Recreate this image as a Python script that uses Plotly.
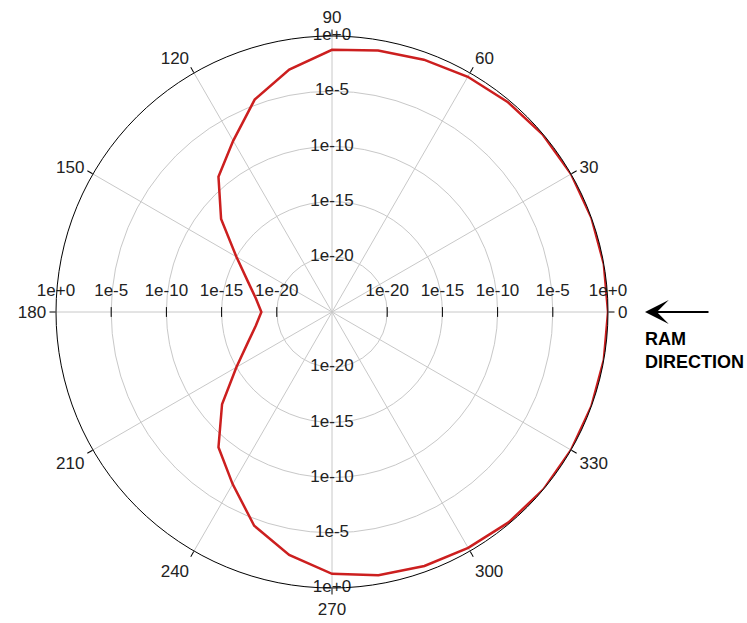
import plotly.graph_objects as go

# red pattern, every 10 degrees (radial axis is log)
theta_deg = [0, 10, 20, 30, 40, 50, 60, 70, 80, 90, 100, 110, 120, 130, 140, 150, 160, 170,
             180, 190, 200, 210, 220, 230, 240, 250, 260, 270, 280, 290, 300, 310, 320, 330,
             340, 350, 360]
intensity = [1.0, 1.0, 1.0, 1.0, 0.9, 0.63, 0.4, 0.21, 0.11, 5.6e-2, 2e-3, 3e-5, 8e-8, 1e-9,
             1.3e-12, 1e-15, 1.3e-17, 1e-18, 2.5e-19, 1e-18, 1.3e-17, 1e-15, 1e-12, 1e-9, 1e-7,
             4e-5, 2.2e-3, 5.2e-2, 0.16, 0.3, 0.47, 0.76, 1.0, 1.0, 1.0, 1.0, 1.0]

ring_vals = [1e-20, 1e-15, 1e-10, 1e-5, 1e0]
ring_text = ["1e-20", "1e-15", "1e-10", "1e-5", "1e+0"]
angle_ticks = [0, 30, 60, 90, 120, 150, 180, 210, 240, 270, 300, 330]

FONT = "Liberation Sans, Arial, sans-serif"
GRID = "#c8c8c8"
W, H = 747, 623
# polar circle: centre (332, 312), radius 276 px
dom_x = [(332 - 276) / W, (332 + 276) / W]
dom_y = [1 - (312 + 276) / H, 1 - (312 - 276) / H]

fig = go.Figure()

fig.add_trace(
    go.Scatterpolar(
        r=intensity,
        theta=theta_deg,
        mode="lines",
        line={"color": "#cc1f1f", "width": 2.5},
        hoverinfo="skip",
    )
)

# ring labels: above the horizontal axis (pushed up by an invisible marker), centred on the vertical one
for ang, pos, msize in [(0, "top center", 18), (180, "top center", 18),
                        (90, "middle center", 0), (270, "middle center", 0)]:
    fig.add_trace(
        go.Scatterpolar(
            r=ring_vals,
            theta=[ang] * len(ring_vals),
            mode="markers+text",
            marker={"size": msize, "color": "rgba(0,0,0,0)"},
            text=ring_text,
            textposition=pos,
            textfont={"family": FONT, "size": 17, "color": "#222222"},
            hoverinfo="skip",
        )
    )

# little tick marks where the rings cross the horizontal axis
fig.add_trace(
    go.Scatterpolar(
        r=ring_vals[:-1] * 2,
        theta=[0] * 4 + [180] * 4,
        mode="markers",
        marker={"symbol": "line-ns", "size": 7, "line": {"color": "black", "width": 1}},
        hoverinfo="skip",
    )
)

fig.update_layout(
    width=W,
    height=H,
    showlegend=False,
    paper_bgcolor="white",
    margin={"l": 0, "r": 0, "t": 0, "b": 0},
    polar={
        "domain": {"x": dom_x, "y": dom_y},
        "bgcolor": "white",
        "radialaxis": {
            "type": "log",
            "range": [-25, 0],
            "tickvals": ring_vals,
            "showticklabels": False,
            "ticks": "",
            "showline": False,
            "gridcolor": GRID,
            "gridwidth": 1,
            "angle": 0,
        },
        "angularaxis": {
            "rotation": 0,
            "direction": "counterclockwise",
            "tickvals": angle_ticks,
            "ticktext": [str(a) for a in angle_ticks],
            "ticks": "outside",
            "ticklen": 6,
            "tickcolor": "black",
            "showline": True,
            "linecolor": "black",
            "linewidth": 1,
            "gridcolor": GRID,
            "gridwidth": 1,
            "tickfont": {"family": FONT, "size": 17, "color": "#222222"},
        },
    },
)

fig.add_annotation(
    x=645 / W, y=1 - 312 / H, xref="paper", yref="paper",
    ax=65, ay=0, axref="pixel", ayref="pixel",
    text="", showarrow=True, arrowhead=3, arrowsize=2.2, arrowwidth=1.8, arrowcolor="black",
)
fig.add_annotation(
    x=643 / W, y=1 - 350 / H, xref="paper", yref="paper",
    xanchor="left", yanchor="middle", align="left", showarrow=False,
    text="<b>RAM<br>DIRECTION</b>",
    font={"family": FONT, "size": 18, "color": "black"},
)

fig.write_html(
    "out.html",
    config={"displayModeBar": False},
    post_script="document.body.style.margin='0';",
)
